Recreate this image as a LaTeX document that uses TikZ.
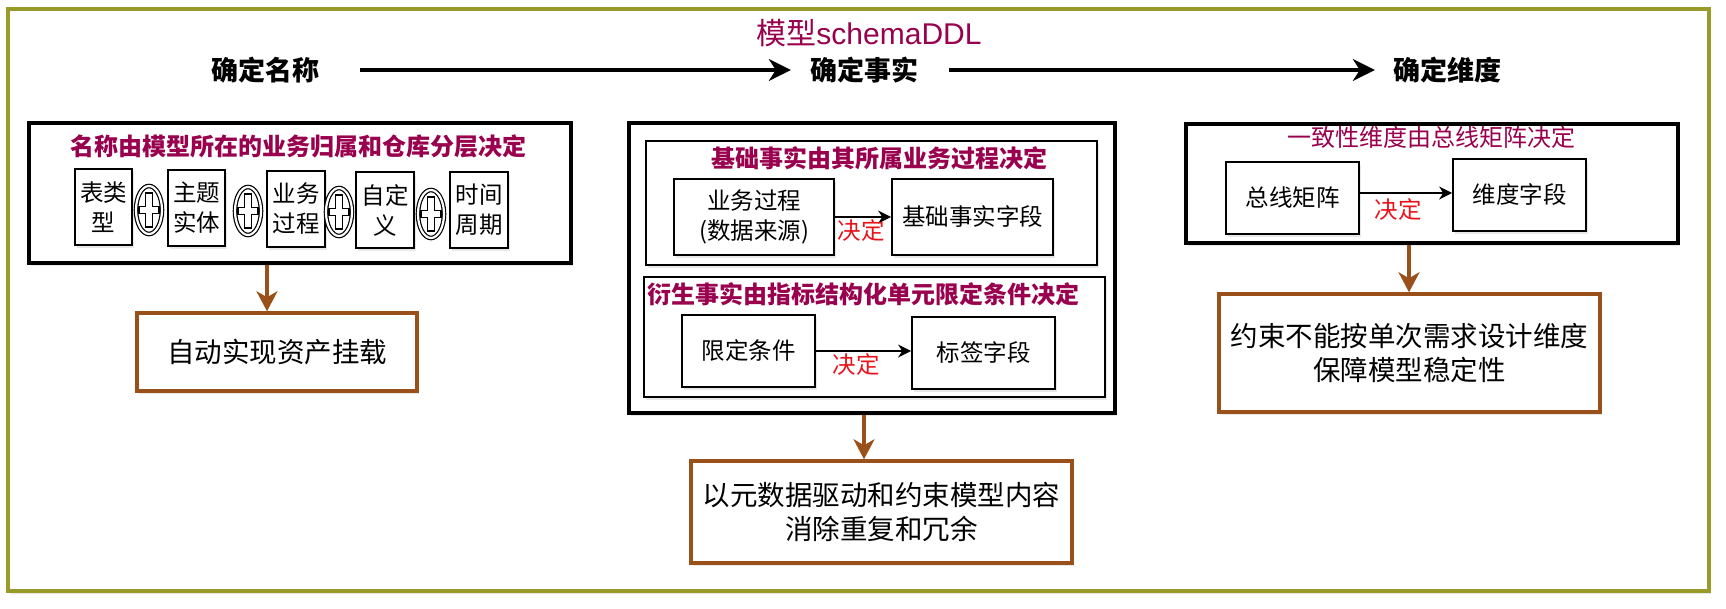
\documentclass[tikz,border=0pt]{standalone}
\usepackage{fontspec}
\setmainfont{Noto Sans CJK SC}
\newfontfamily\latfont{Liberation Sans}
\usetikzlibrary{arrows.meta,shapes.geometric,shadows}
\definecolor{olivef}{HTML}{9A9A28}
\definecolor{magt}{HTML}{99004D}
\definecolor{brownb}{HTML}{99501A}
\definecolor{redt}{HTML}{E8141C}
\begin{document}
\begin{tikzpicture}[x=1pt,y=-1pt,
  shd/.style={drop shadow={opacity=0.18,shadow xshift=2pt,shadow yshift=-3pt}},
  thickbox/.style={draw=black,line width=3.3pt,fill=white,inner sep=0pt,shd},
  thinbox/.style={draw=black,line width=1.7pt,fill=white,inner sep=0pt,shd},
  brownbox/.style={draw=brownb,line width=3.5pt,fill=white,inner sep=0pt,shd},
  hdr/.style={inner sep=0pt,font=\fontsize{27}{32}\selectfont\bfseries},
  magtitle/.style={inner sep=0pt,text=magt,font=\fontsize{24}{29}\selectfont\bfseries},
  magreg/.style={inner sep=0pt,text=magt,font=\fontsize{24}{29}\selectfont},
  body/.style={inner sep=0pt,align=center,font=\fontsize{23.5}{30}\selectfont},
  bigtxt/.style={inner sep=0pt,align=center,font=\fontsize{27.5}{34}\selectfont},
  redlbl/.style={inner sep=0pt,text=redt,font=\fontsize{23.5}{28}\selectfont},
  bigarrow/.style={line width=3.3pt,-{Stealth[length=22pt,width=22pt,inset=7pt]}},
  brownarrow/.style={draw=brownb,line width=3.2pt,-{Stealth[length=20pt,width=21pt,inset=6pt]},brownb},
  thinarrow/.style={line width=1.6pt,-{Stealth[length=13pt,width=13pt,inset=4pt]}},
  plussym/.style={ellipse,draw,line width=1.2pt,double,double distance=2.2pt,fill=white,
    minimum width=26pt,minimum height=48pt,inner sep=0pt,
    path picture={\draw[line width=1.1pt,shift={(path picture bounding box.center)}]
      (-3.5,-17) -- (3.5,-17) -- (3.5,-3.5) -- (10,-3.5) -- (10,3.5) -- (3.5,3.5) -- (3.5,17)
      -- (-3.5,17) -- (-3.5,3.5) -- (-10,3.5) -- (-10,-3.5) -- (-3.5,-3.5) -- cycle;}}
]
\useasboundingbox (0,0) rectangle (1726,608);
\fill[white] (0,0) rectangle (1726,608);
% outer frame
\node[draw=olivef,line width=3.6pt,fill=white,inner sep=0pt,minimum width=1701pt,minimum height=582pt,shd] (frame) at (858.5,300) {};
% title
\node[inner sep=0pt,text=magt,font=\fontsize{30}{36}\selectfont] (title) at (869,33) {模型{\latfont schemaDDL}};
% headers
\node[hdr] (h1) at (265,70) {确定名称};
\node[hdr] (h2) at (864,70) {确定事实};
\node[hdr] (h3) at (1447,70) {确定维度};
\draw[bigarrow,shorten <=41pt,shorten >=19pt] (h1) -- (h2);
\draw[bigarrow,shorten <=31pt,shorten >=18pt] (h2) -- (h3);

% ---- name column
\node[thickbox,minimum width=542pt,minimum height=140pt] (namebox) at (300,193) {};
\node[magtitle] (nt) at (298,146) {名称由模型所在的业务归属和仓库分层决定};
\node[thinbox,minimum width=57pt,minimum height=76pt] (t1) at (103.5,207) {};
\node[thinbox,minimum width=57pt,minimum height=76pt] (t2) at (196.5,208) {};
\node[thinbox,minimum width=58pt,minimum height=76pt] (t3) at (296,209) {};
\node[thinbox,minimum width=58pt,minimum height=76pt] (t4) at (385,210) {};
\node[thinbox,minimum width=58pt,minimum height=76pt] (t5) at (479,210) {};
\node[body] at (t1) {表类\\型};
\node[body] at (t2) {主题\\实体};
\node[body] at (t3) {业务\\过程};
\node[body] at (t4) {自定\\义};
\node[body] at (t5) {时间\\周期};
\node[plussym] (p1) at (149,210) {};
\node[plussym] (p2) at (248,211) {};
\node[plussym] (p3) at (339,212) {};
\node[plussym] (p4) at (431,214) {};
\node[brownbox,minimum width=280pt,minimum height=78pt] (auto1) at (277,352) {};
\node[bigtxt] at (auto1) {自动实现资产挂载};
\coordinate (c1) at (267,0);
\draw[brownarrow] (namebox.south -| c1) -- (auto1.north -| c1);

% ---- fact column
\node[thickbox,minimum width=486pt,minimum height=290pt] (fact) at (872,268) {};
\node[thinbox,minimum width=451pt,minimum height=124pt] (fb1) at (871.5,203) {};
\node[magtitle] (fb1t) at (879,158) {基础事实由其所属业务过程决定};
\node[thinbox,minimum width=160pt,minimum height=76pt] (bp) at (754,217) {};
\node[body] at (bp) {业务过程\\(数据来源)};
\node[thinbox,minimum width=161pt,minimum height=76pt] (bf) at (972.5,217) {};
\node[body] at (bf) {基础事实字段};
\draw[thinarrow] (bp) -- (bf);
\node[redlbl] (d1) at (861,231) {决定};

\node[thinbox,minimum width=461pt,minimum height=120pt] (fb2) at (874.5,337) {};
\node[magtitle] (fb2t) at (863.5,294) {衍生事实由指标结构化单元限定条件决定};
\node[thinbox,minimum width=133pt,minimum height=72pt] (lc) at (748.5,351) {};
\node[body] at (lc) {限定条件};
\node[thinbox,minimum width=143pt,minimum height=72pt] (lf) at (983.5,353) {};
\node[body] at (lf) {标签字段};
\draw[thinarrow] (lc.east) -- (lc.east -| lf.west);
\node[redlbl] (d2) at (856,365) {决定};

\node[brownbox,minimum width=381pt,minimum height=102pt] (auto2) at (881.5,512) {};
\node[bigtxt] at (auto2) {以元数据驱动和约束模型内容\\消除重复和冗余};
\coordinate (c2) at (864,0);
\draw[brownarrow] (fact.south -| c2) -- (auto2.north -| c2);

% ---- dimension column
\node[thickbox,minimum width=492pt,minimum height=119pt] (dim) at (1432,183.5) {};
\node[magreg] (dt) at (1431,137) {一致性维度由总线矩阵决定};
\node[thinbox,minimum width=133pt,minimum height=72pt] (bm) at (1292.5,198) {};
\node[body] at (bm) {总线矩阵};
\node[thinbox,minimum width=133pt,minimum height=72pt] (df) at (1519.5,195) {};
\node[body] at (df) {维度字段};
\draw[thinarrow] ([yshift=5pt]bm.east) -- ([yshift=5pt]bm.east -| df.west);
\node[redlbl] (d3) at (1398,210) {决定};

\node[brownbox,minimum width=381pt,minimum height=118pt] (auto3) at (1409.5,353) {};
\node[bigtxt] at (auto3) {约束不能按单次需求设计维度\\保障模型稳定性};
\coordinate (c3) at (1409,0);
\draw[brownarrow] (dim.south -| c3) -- (auto3.north -| c3);
\end{tikzpicture}
\end{document}
